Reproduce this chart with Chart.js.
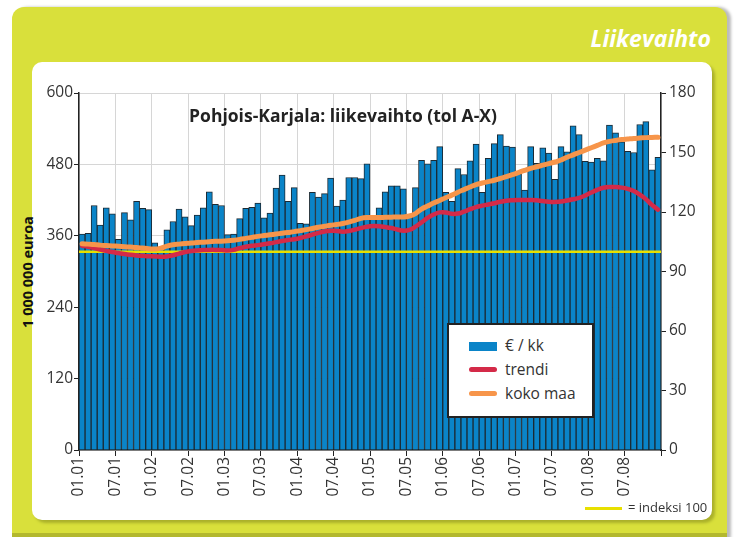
<!DOCTYPE html>
<html>
<head>
<meta charset="utf-8">
<script src="https://cdn.jsdelivr.net/npm/chart.js@4"></script>
<style>
    body { margin: 0; width: 735px; height: 537px; background: #fff; position: relative; overflow: hidden; font-family: "Open Sans", sans-serif; }
    .frame { position: absolute; left: 12px; top: 7px; width: 715px; height: 540px; background: #d9e03b; border-radius: 12px; box-shadow: 4px 0 3px #bbb; }
    .band { position: absolute; left: 12px; top: 533px; width: 715px; height: 4px; background: #b3b82e; }
    .panel { position: absolute; left: 32px; top: 62px; width: 680px; height: 458px; background: #fff; border-radius: 10px; box-shadow: 3px 3px 3px #aab02a; }
    .section { position: absolute; right: 24px; top: 22px; color: #fff; font-weight: bold; font-style: italic; font-size: 23px; }
    .ytitle { position: absolute; left: 27px; top: 272px; transform: translate(-50%, -50%) rotate(-90deg); font-weight: bold; font-size: 14.5px; color: #111; white-space: nowrap; }
    .title { position: absolute; left: 343px; top: 115px; transform: translate(-50%, -50%); font-weight: bold; font-size: 17.5px; color: #222; white-space: nowrap; }
    canvas { position: absolute; left: 0; top: 0; }
    .legend { position: absolute; left: 447px; top: 323px; width: 143px; height: 91px; border: 2px solid #222; background: #fff; }
    .legend div { position: absolute; left: 56px; font-size: 15.5px; color: #333; }
    .legend span { position: absolute; left: 20px; width: 28px; }
    .note { position: absolute; left: 628px; top: 498px; font-size: 13px; color: #333; }
    .noteline { position: absolute; left: 585px; top: 507px; width: 37px; height: 3px; background: #e8e000; }
</style>
</head>
<body>
<div class="frame"></div>
<div class="band"></div>
<div class="panel"></div>
<div class="section">Liikevaihto</div>
<div class="ytitle">1 000 000 euroa</div>
<canvas id="chart" width="735" height="537"></canvas>
<div class="title">Pohjois-Karjala: liikevaihto (tol A-X)</div>
<div class="legend">
    <span style="top: 17px; height: 9px; background: #0a84c8;"></span><div style="top: 9px;">€ / kk</div>
    <span style="top: 42px; height: 5px; border-radius: 3px; background: #d42a48;"></span><div style="top: 33px;">trendi</div>
    <span style="top: 66px; height: 5px; border-radius: 3px; background: #f7954a;"></span><div style="top: 57px;">koko maa</div>
</div>
<div class="noteline"></div>
<div class="note">= indeksi 100</div>
<script>
// tick labels every six months, 01.2001 .. 12.2008 monthly data
const tickLabels = ['01.01', '07.01', '01.02', '07.02', '01.03', '07.03', '01.04', '07.04',
    '01.05', '07.05', '01.06', '07.06', '01.07', '07.07', '01.08', '07.08'];

// € / kk, 1 000 000 euroa
const monthlySales = [
    363, 364, 411, 378, 407, 397, 354, 399, 387, 418, 406, 404,
    348, 338, 370, 384, 405, 392, 377, 395, 407, 434, 413, 411,
    362, 363, 389, 406, 408, 415, 390, 398, 440, 462, 418, 441,
    381, 380, 433, 425, 431, 457, 410, 420, 458, 458, 456, 481,
    392, 407, 434, 444, 444, 439, 395, 441, 487, 481, 487, 510,
    433, 418, 473, 463, 486, 514, 433, 490, 515, 530, 511, 509,
    464, 437, 510, 482, 508, 499, 455, 510, 501, 545, 530, 485,
    484, 490, 486, 546, 533, 518, 502, 500, 547, 552, 471, 492
];

// trendi, index
const trend = [
    103, 102.5, 101.8, 101.1, 100.4, 99.8, 99.3, 98.8, 98.4, 98.1, 97.9, 97.7,
    97.6, 97.5, 97.6, 98.2, 99, 99.8, 100.3, 100.6, 100.8, 100.9, 100.9, 100.8,
    100.6, 100.9, 101.8, 102.5, 103, 103.3, 103.7, 104.2, 104.8, 105.4, 105.9, 106.3,
    106.9, 107.7, 108.6, 109.5, 110.2, 110.6, 110.4, 110.1, 110.4, 111.1, 111.9, 112.6,
    112.9, 112.8, 112.4, 111.9, 111.2, 110.6, 111, 112.6, 114.8, 117, 118.7, 119.8,
    119.8, 119.1, 119.2, 120.2, 121.4, 122.5, 123.2, 123.8, 124.4, 125.2, 125.7, 125.9,
    126, 126, 126.1, 125.9, 125.5, 125.2, 125.1, 125.3, 125.8, 126.4, 127.1, 128.3,
    129.8, 131.2, 132.2, 132.6, 132.6, 132.3, 131.7, 130.6, 128.8, 126.5, 123.6, 121.2
];

// koko maa, index
const wholeCountry = [
    104, 103.8, 103.6, 103.3, 103.1, 102.9, 102.7, 102.5, 102.3, 102.1, 101.8, 101.5,
    101.3, 101.8, 102.8, 103.5, 103.8, 104.1, 104.4, 104.6, 104.8, 105, 105.2, 105.3,
    105.5, 105.8, 106.2, 106.7, 107.2, 107.7, 108.1, 108.5, 108.9, 109.3, 109.7, 110.1,
    110.6, 111.1, 111.7, 112.3, 112.8, 113.3, 113.7, 114.2, 114.9, 115.8, 116.8, 117.2,
    117.2, 117.2, 117.3, 117.4, 117.5, 117.5, 118, 119.2, 121.5, 123, 124.5, 125.8,
    127.2, 128.5, 130, 131.3, 132.6, 133.8, 134.6, 135.3, 136, 136.9, 137.8, 138.8,
    139.9, 141, 142, 142.8, 143.6, 144.4, 145.2, 146.2, 147.6, 148.8, 150, 151.2,
    152.4, 153.6, 154.8, 155.6, 156.1, 156.5, 156.8, 157.1, 157.3, 157.5, 157.6, 157.7
];

const indexBase = 100;

const toPoints = arr => arr.map((v, i) => ({x: i + 0.5, y: v}));
const axisFont = {family: 'Open Sans', size: 15.5};

// keep the plot box fixed: no extra padding from rotated / half-height labels
function fixBox(w, h) {
    return s => {
        if (w !== null) s.width = w;
        if (h !== null) s.height = h;
        s.paddingLeft = 0;
        s.paddingRight = 0;
        s.paddingTop = 0;
        s.paddingBottom = 0;
    };
}

new Chart(document.getElementById('chart'), {
    data: {
        datasets: [
            {
                type: 'line', label: 'koko maa', data: toPoints(wholeCountry), yAxisID: 'y2',
                borderColor: '#f7954a', borderWidth: 5, pointRadius: 0, tension: 0.4,
                borderCapStyle: 'round', order: 0
            },
            {
                type: 'line', label: 'trendi', data: toPoints(trend), yAxisID: 'y2',
                borderColor: '#d42a48', borderWidth: 4.5, pointRadius: 0, tension: 0.4,
                borderCapStyle: 'round', order: 1
            },
            {
                type: 'line', label: 'indeksi 100', data: [{x: 0, y: indexBase}, {x: monthlySales.length, y: indexBase}],
                yAxisID: 'y2', borderColor: '#e8e000', borderWidth: 2.5, pointRadius: 0, order: 2
            },
            {
                type: 'bar', label: '€ / kk', data: toPoints(monthlySales), yAxisID: 'y',
                backgroundColor: '#0a84c8', borderColor: '#1c2a33', borderWidth: 1,
                barPercentage: 1, categoryPercentage: 1, order: 3
            }
        ]
    },
    options: {
        responsive: false,
        animation: false,
        layout: {padding: {top: 93, left: 0, right: 0, bottom: 0}},
        plugins: {legend: {display: false}, tooltip: {enabled: false}},
        scales: {
            x: {
                type: 'linear', min: 0, max: monthlySales.length, offset: false,
                afterFit: fixBox(null, 87),
                ticks: {
                    stepSize: 6, autoSkip: false, minRotation: 90, maxRotation: 90,
                    callback: v => tickLabels[v / 6] || '',
                    font: axisFont, color: '#333', padding: 1
                },
                grid: {color: '#d6d6d6', tickColor: '#222', tickLength: 6, offset: false},
                border: {color: '#222', width: 1.5}
            },
            y: {
                position: 'left', min: 0, max: 600,
                afterFit: fixBox(79, null),
                ticks: {stepSize: 120, font: axisFont, color: '#333', padding: 1},
                grid: {color: '#d6d6d6', tickColor: '#222', tickLength: 5},
                border: {color: '#222', width: 1.5}
            },
            y2: {
                position: 'right', min: 0, max: 180,
                afterFit: fixBox(74, null),
                ticks: {stepSize: 30, font: axisFont, color: '#333', padding: 3},
                grid: {drawOnChartArea: false, tickColor: '#222', tickLength: 5},
                border: {color: '#222', width: 1.5}
            }
        }
    }
});
</script>
</body>
</html>
